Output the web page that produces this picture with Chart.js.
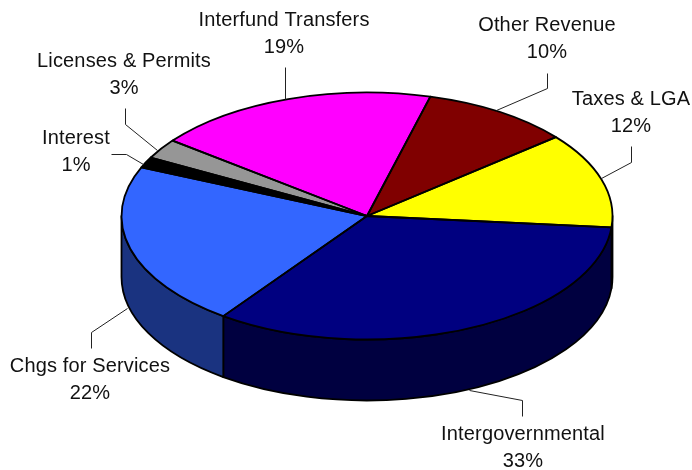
<!DOCTYPE html>
<html>
<head>
<meta charset="utf-8">
<style>
html, body { margin: 0; padding: 0; background: #fff; }
canvas { display: block; }
</style>
<script src="https://cdn.jsdelivr.net/npm/chart.js@4/dist/chart.umd.min.js"></script>
</head>
<body>
<canvas id="mycanvas" width="692" height="470"></canvas>
<script>
var categories = ['Taxes & LGA', 'Intergovernmental', 'Chgs for Services', 'Interest', 'Licenses & Permits', 'Interfund Transfers', 'Other Revenue'];
var shares = [12.49, 33.49, 21.5, 1.4, 2.6, 18.7, 9.82];
var topColors = ['#ffff00', '#000080', '#3366ff', '#000000', '#969696', '#ff00ff', '#800000'];
var wallColors = ['#808000', '#000040', '#1a3380', '#000000', '#4b4b4b', '#800080', '#400000'];

// where each label sits and how its leader line runs, same order as categories
var labelSpots = [
    { x: 631, y: 99, line: [[631, 146], [631, 162], [601, 178]] },
    { x: 523, y: 434, line: [[522, 416], [522, 400], [469, 390]] },
    { x: 90, y: 366, line: [[91, 348], [91, 332], [127, 308]] },
    { x: 76, y: 138, line: [[111, 154], [126, 154], [143, 164]] },
    { x: 124, y: 61, line: [[125, 108], [125, 124], [157, 150]] },
    { x: 284, y: 20, line: [[285, 67], [285, 99]] },
    { x: 547, y: 25, line: [[547, 73], [547, 88], [496, 110]] }
];

var squash = 123.5 / 245.5;
var depth = 61;
var TWO_PI = Math.PI * 2;

// front half of the rim only: angle 0..PI in canvas terms
function visibleRanges(start, end) {
    var ranges = [];
    for (var k = -1; k <= 1; k++) {
        var from = Math.max(start, k * TWO_PI);
        var to = Math.min(end, k * TWO_PI + Math.PI);
        if (to > from) ranges.push([from, to]);
    }
    return ranges;
}

var pie3d = {
    id: 'pie3d',
    beforeDatasetsDraw: function (chart) {
        var ctx = chart.ctx;
        var arcs = chart.getDatasetMeta(0).data;
        var cx = arcs[0].x, cy = arcs[0].y, r = arcs[0].outerRadius, ry = r * squash;

        ctx.save();
        ctx.strokeStyle = '#000';
        ctx.lineWidth = 1.8;
        ctx.lineJoin = 'round';
        arcs.forEach(function (arc, i) {
            visibleRanges(arc.startAngle, arc.endAngle).forEach(function (rg) {
                ctx.beginPath();
                ctx.ellipse(cx, cy, r, ry, 0, rg[0], rg[1]);
                ctx.ellipse(cx, cy + depth, r, ry, 0, rg[1], rg[0], true);
                ctx.closePath();
                ctx.fillStyle = wallColors[i];
                ctx.fill();
                ctx.stroke();
            });
        });
        ctx.restore();

        // the library draws the slices, flattened onto the ellipse
        ctx.save();
        ctx.translate(0, cy);
        ctx.scale(1, squash);
        ctx.translate(0, -cy);
    },
    afterDatasetsDraw: function (chart) {
        var ctx = chart.ctx;
        ctx.restore();

        var arcs = chart.getDatasetMeta(0).data;
        var cx = arcs[0].x, cy = arcs[0].y, r = arcs[0].outerRadius, ry = r * squash;

        ctx.save();
        ctx.strokeStyle = '#000';
        ctx.lineWidth = 1.8;
        ctx.lineJoin = 'round';
        arcs.forEach(function (arc) {
            ctx.beginPath();
            ctx.moveTo(cx, cy);
            ctx.ellipse(cx, cy, r, ry, 0, arc.startAngle, arc.endAngle);
            ctx.closePath();
            ctx.stroke();
        });
        ctx.restore();

        var total = shares.reduce(function (a, b) { return a + b; }, 0);
        ctx.save();
        ctx.textAlign = 'center';
        ctx.textBaseline = 'middle';
        ctx.font = '20px "Liberation Sans", Arial, sans-serif';
        ctx.letterSpacing = '0.15px';
        labelSpots.forEach(function (spot, i) {
            ctx.strokeStyle = '#222';
            ctx.lineWidth = 1;
            ctx.beginPath();
            spot.line.forEach(function (p, j) {
                if (j === 0) ctx.moveTo(p[0] + 0.5, p[1] + 0.5);
                else ctx.lineTo(p[0] + 0.5, p[1] + 0.5);
            });
            ctx.stroke();
            ctx.fillStyle = '#111';
            ctx.fillText(categories[i], spot.x, spot.y);
            ctx.fillText(Math.round(shares[i] / total * 100) + '%', spot.x, spot.y + 27);
        });
        ctx.restore();
    }
};

var chartdata = {
    labels: categories,
    datasets: [{
        data: shares,
        backgroundColor: topColors,
        borderWidth: 0,
        radius: 245.5,
        rotation: 50.3,
        clip: false
    }]
};

var ctx = document.getElementById('mycanvas');

var pieGraph = new Chart(ctx, {
    type: 'pie',
    data: chartdata,
    options: {
        responsive: false,
        animation: false,
        layout: { padding: { left: 42, right: 0, top: 0, bottom: 38 } },
        plugins: {
            legend: { display: false },
            tooltip: { enabled: false }
        }
    },
    plugins: [pie3d]
});
</script>
</body>
</html>
